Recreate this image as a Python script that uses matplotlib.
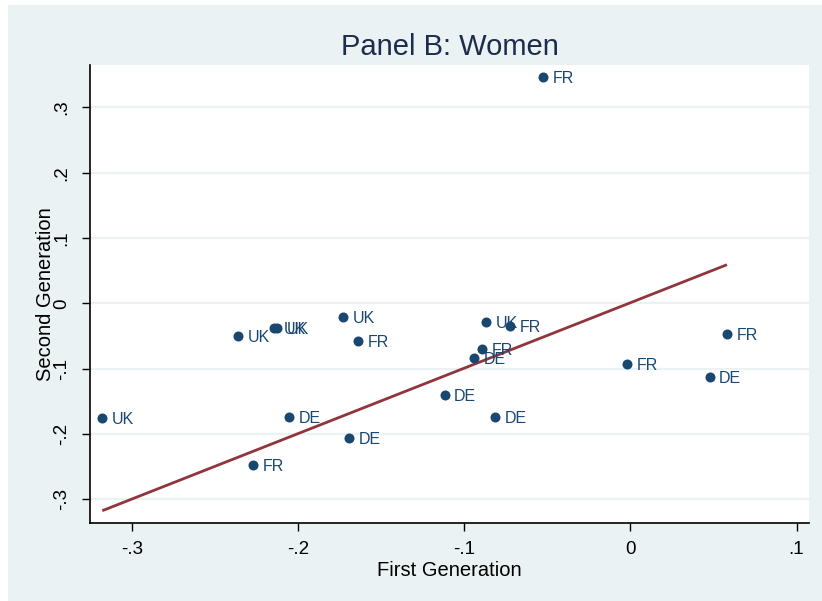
import numpy as np
import matplotlib
matplotlib.use("Agg")
from matplotlib import pyplot as plt
from matplotlib.patches import Rectangle

# values
countries = ["FR", "UK", "UK", "UK", "UK", "FR", "UK", "DE", "FR", "DE",
             "DE", "DE", "UK", "FR", "FR", "DE", "FR", "FR", "DE"]
first_gen = [-0.0526, -0.2361, -0.2146, -0.2128, -0.1733, -0.1639, -0.3181, -0.2054, -0.2273, -0.1693,
             -0.1120, -0.0813, -0.0869, -0.0725, -0.0892, -0.0942, -0.0020, 0.0581, 0.0476]
second_gen = [0.3466, -0.0501, -0.0378, -0.0385, -0.0214, -0.0582, -0.1752, -0.1741, -0.2472, -0.2067,
              -0.1404, -0.1746, -0.0286, -0.0348, -0.0700, -0.0842, -0.0925, -0.0475, -0.1133]

fit_x = [-0.3181, 0.0581]
fit_y = [-0.3176, 0.0591]

x_ticks = [-0.3, -0.2, -0.1, 0, 0.1]
x_ticklabels = ["-.3", "-.2", "-.1", "0", ".1"]
y_ticks = [-0.3, -0.2, -0.1, 0, 0.1, 0.2, 0.3]
y_ticklabels = ["-.3", "-.2", "-.1", "0", ".1", ".2", ".3"]

BG = "#eaf2f3"
NAVY = "#1a476f"
MAROON = "#90353b"

plt.rcParams['font.family'] = ['Liberation Sans', 'DejaVu Sans']

fig = plt.figure(figsize=(8.22, 6.01), dpi=100)
fig.patches.append(Rectangle((8 / 822, 0), 1, 596 / 601, transform=fig.transFigure,
                             facecolor=BG, edgecolor='none', zorder=-10))

ax = fig.add_axes([90 / 822, (601 - 523.3) / 601, (809.3 - 90) / 822, (523.3 - 64.7) / 601])
ax.set_facecolor("white")

for yv in y_ticks:
    ax.axhline(yv, color=BG, lw=1.6, zorder=0)

ax.plot(fit_x, fit_y, color=MAROON, lw=2, zorder=2, solid_capstyle='butt')
ax.scatter(first_gen, second_gen, s=52, color=NAVY, zorder=3, linewidths=0)
for x, y, lab in zip(first_gen, second_gen, countries):
    ax.annotate(lab, (x, y), xytext=(7, -1), textcoords='offset points',
                ha='left', va='center', fontsize=11.5, color=NAVY, zorder=4)

ax.set_xlim(-0.3255, 0.1077)
ax.set_ylim(-0.3369, 0.3654)
ax.set_xticks(x_ticks)
ax.set_xticklabels(x_ticklabels)
ax.set_yticks(y_ticks)
ax.set_yticklabels(y_ticklabels, rotation=90, va='center')
ax.tick_params(axis='both', length=6, width=1, labelsize=13.5)
ax.tick_params(axis='x', pad=7)
ax.tick_params(axis='y', pad=8)

for side in ['top', 'right']:
    ax.spines[side].set_visible(False)
for side in ['left', 'bottom']:
    ax.spines[side].set_linewidth(1.2)

ax.set_xlabel("First Generation", fontsize=14.5, labelpad=2)
ax.set_ylabel("Second Generation", fontsize=14.5, labelpad=-1)
ax.set_title("Panel B: Women", fontsize=21, color="#1c2c4c", pad=7)

fig.savefig("out.png", dpi=100)
